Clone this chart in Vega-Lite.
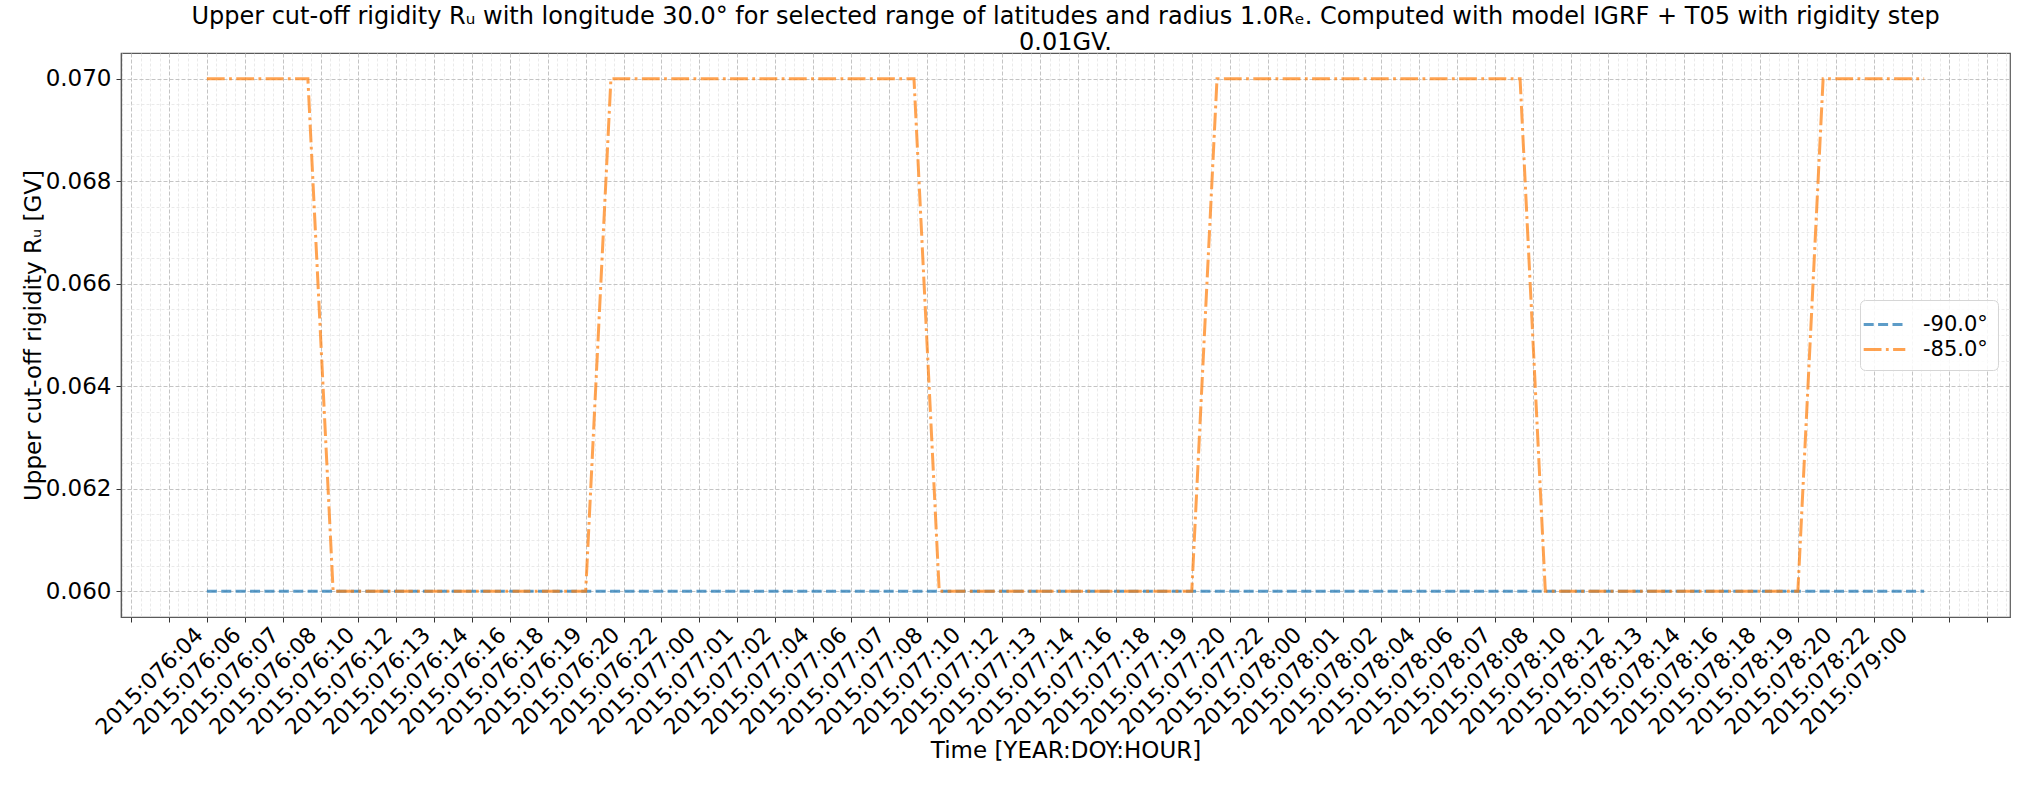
{
  "$schema": "https://vega.github.io/schema/vega-lite/v6.json",
  "width": 1889,
  "height": 564,
  "autosize": {"type": "none"},
  "padding": {"left": 121, "top": 53, "right": 25, "bottom": 168},
  "background": "white",
  "config": {
    "font": "DejaVu Sans",
    "view": {"stroke": "#5a5a5a", "strokeWidth": 1.2},
    "axis": {"labelFont": "DejaVu Sans", "titleFont": "DejaVu Sans", "labelColor": "black", "titleColor": "black", "titleFontWeight": "normal"}
  },
  "title": {
    "text": ["Upper cut-off rigidity Rᵤ with longitude 30.0° for selected range of latitudes and radius 1.0Rₑ. Computed with model IGRF + T05 with rigidity step", "0.01GV."],
    "fontSize": 24,
    "font": "DejaVu Sans",
    "fontWeight": "normal",
    "color": "black",
    "anchor": "middle",
    "frame": "group",
    "lineHeight": 26,
    "offset": -2
  },
  "data": {"values": [
    {"hour": 0, "R": 0.06, "lat": "-90.0°"}, {"hour": 1, "R": 0.06, "lat": "-90.0°"}, {"hour": 2, "R": 0.06, "lat": "-90.0°"}, {"hour": 3, "R": 0.06, "lat": "-90.0°"}, {"hour": 4, "R": 0.06, "lat": "-90.0°"}, {"hour": 5, "R": 0.06, "lat": "-90.0°"}, {"hour": 6, "R": 0.06, "lat": "-90.0°"}, {"hour": 7, "R": 0.06, "lat": "-90.0°"}, {"hour": 8, "R": 0.06, "lat": "-90.0°"}, {"hour": 9, "R": 0.06, "lat": "-90.0°"},
    {"hour": 10, "R": 0.06, "lat": "-90.0°"}, {"hour": 11, "R": 0.06, "lat": "-90.0°"}, {"hour": 12, "R": 0.06, "lat": "-90.0°"}, {"hour": 13, "R": 0.06, "lat": "-90.0°"}, {"hour": 14, "R": 0.06, "lat": "-90.0°"}, {"hour": 15, "R": 0.06, "lat": "-90.0°"}, {"hour": 16, "R": 0.06, "lat": "-90.0°"}, {"hour": 17, "R": 0.06, "lat": "-90.0°"}, {"hour": 18, "R": 0.06, "lat": "-90.0°"}, {"hour": 19, "R": 0.06, "lat": "-90.0°"},
    {"hour": 20, "R": 0.06, "lat": "-90.0°"}, {"hour": 21, "R": 0.06, "lat": "-90.0°"}, {"hour": 22, "R": 0.06, "lat": "-90.0°"}, {"hour": 23, "R": 0.06, "lat": "-90.0°"}, {"hour": 24, "R": 0.06, "lat": "-90.0°"}, {"hour": 25, "R": 0.06, "lat": "-90.0°"}, {"hour": 26, "R": 0.06, "lat": "-90.0°"}, {"hour": 27, "R": 0.06, "lat": "-90.0°"}, {"hour": 28, "R": 0.06, "lat": "-90.0°"}, {"hour": 29, "R": 0.06, "lat": "-90.0°"},
    {"hour": 30, "R": 0.06, "lat": "-90.0°"}, {"hour": 31, "R": 0.06, "lat": "-90.0°"}, {"hour": 32, "R": 0.06, "lat": "-90.0°"}, {"hour": 33, "R": 0.06, "lat": "-90.0°"}, {"hour": 34, "R": 0.06, "lat": "-90.0°"}, {"hour": 35, "R": 0.06, "lat": "-90.0°"}, {"hour": 36, "R": 0.06, "lat": "-90.0°"}, {"hour": 37, "R": 0.06, "lat": "-90.0°"}, {"hour": 38, "R": 0.06, "lat": "-90.0°"}, {"hour": 39, "R": 0.06, "lat": "-90.0°"},
    {"hour": 40, "R": 0.06, "lat": "-90.0°"}, {"hour": 41, "R": 0.06, "lat": "-90.0°"}, {"hour": 42, "R": 0.06, "lat": "-90.0°"}, {"hour": 43, "R": 0.06, "lat": "-90.0°"}, {"hour": 44, "R": 0.06, "lat": "-90.0°"}, {"hour": 45, "R": 0.06, "lat": "-90.0°"}, {"hour": 46, "R": 0.06, "lat": "-90.0°"}, {"hour": 47, "R": 0.06, "lat": "-90.0°"}, {"hour": 48, "R": 0.06, "lat": "-90.0°"}, {"hour": 49, "R": 0.06, "lat": "-90.0°"},
    {"hour": 50, "R": 0.06, "lat": "-90.0°"}, {"hour": 51, "R": 0.06, "lat": "-90.0°"}, {"hour": 52, "R": 0.06, "lat": "-90.0°"}, {"hour": 53, "R": 0.06, "lat": "-90.0°"}, {"hour": 54, "R": 0.06, "lat": "-90.0°"}, {"hour": 55, "R": 0.06, "lat": "-90.0°"}, {"hour": 56, "R": 0.06, "lat": "-90.0°"}, {"hour": 57, "R": 0.06, "lat": "-90.0°"}, {"hour": 58, "R": 0.06, "lat": "-90.0°"}, {"hour": 59, "R": 0.06, "lat": "-90.0°"},
    {"hour": 60, "R": 0.06, "lat": "-90.0°"}, {"hour": 61, "R": 0.06, "lat": "-90.0°"}, {"hour": 62, "R": 0.06, "lat": "-90.0°"}, {"hour": 63, "R": 0.06, "lat": "-90.0°"}, {"hour": 64, "R": 0.06, "lat": "-90.0°"}, {"hour": 65, "R": 0.06, "lat": "-90.0°"}, {"hour": 66, "R": 0.06, "lat": "-90.0°"}, {"hour": 67, "R": 0.06, "lat": "-90.0°"}, {"hour": 68, "R": 0.06, "lat": "-90.0°"},
    {"hour": 0, "R": 0.07, "lat": "-85.0°"}, {"hour": 1, "R": 0.07, "lat": "-85.0°"}, {"hour": 2, "R": 0.07, "lat": "-85.0°"}, {"hour": 3, "R": 0.07, "lat": "-85.0°"}, {"hour": 4, "R": 0.07, "lat": "-85.0°"}, {"hour": 5, "R": 0.06, "lat": "-85.0°"}, {"hour": 6, "R": 0.06, "lat": "-85.0°"}, {"hour": 7, "R": 0.06, "lat": "-85.0°"}, {"hour": 8, "R": 0.06, "lat": "-85.0°"}, {"hour": 9, "R": 0.06, "lat": "-85.0°"},
    {"hour": 10, "R": 0.06, "lat": "-85.0°"}, {"hour": 11, "R": 0.06, "lat": "-85.0°"}, {"hour": 12, "R": 0.06, "lat": "-85.0°"}, {"hour": 13, "R": 0.06, "lat": "-85.0°"}, {"hour": 14, "R": 0.06, "lat": "-85.0°"}, {"hour": 15, "R": 0.06, "lat": "-85.0°"}, {"hour": 16, "R": 0.07, "lat": "-85.0°"}, {"hour": 17, "R": 0.07, "lat": "-85.0°"}, {"hour": 18, "R": 0.07, "lat": "-85.0°"}, {"hour": 19, "R": 0.07, "lat": "-85.0°"},
    {"hour": 20, "R": 0.07, "lat": "-85.0°"}, {"hour": 21, "R": 0.07, "lat": "-85.0°"}, {"hour": 22, "R": 0.07, "lat": "-85.0°"}, {"hour": 23, "R": 0.07, "lat": "-85.0°"}, {"hour": 24, "R": 0.07, "lat": "-85.0°"}, {"hour": 25, "R": 0.07, "lat": "-85.0°"}, {"hour": 26, "R": 0.07, "lat": "-85.0°"}, {"hour": 27, "R": 0.07, "lat": "-85.0°"}, {"hour": 28, "R": 0.07, "lat": "-85.0°"}, {"hour": 29, "R": 0.06, "lat": "-85.0°"},
    {"hour": 30, "R": 0.06, "lat": "-85.0°"}, {"hour": 31, "R": 0.06, "lat": "-85.0°"}, {"hour": 32, "R": 0.06, "lat": "-85.0°"}, {"hour": 33, "R": 0.06, "lat": "-85.0°"}, {"hour": 34, "R": 0.06, "lat": "-85.0°"}, {"hour": 35, "R": 0.06, "lat": "-85.0°"}, {"hour": 36, "R": 0.06, "lat": "-85.0°"}, {"hour": 37, "R": 0.06, "lat": "-85.0°"}, {"hour": 38, "R": 0.06, "lat": "-85.0°"}, {"hour": 39, "R": 0.06, "lat": "-85.0°"},
    {"hour": 40, "R": 0.07, "lat": "-85.0°"}, {"hour": 41, "R": 0.07, "lat": "-85.0°"}, {"hour": 42, "R": 0.07, "lat": "-85.0°"}, {"hour": 43, "R": 0.07, "lat": "-85.0°"}, {"hour": 44, "R": 0.07, "lat": "-85.0°"}, {"hour": 45, "R": 0.07, "lat": "-85.0°"}, {"hour": 46, "R": 0.07, "lat": "-85.0°"}, {"hour": 47, "R": 0.07, "lat": "-85.0°"}, {"hour": 48, "R": 0.07, "lat": "-85.0°"}, {"hour": 49, "R": 0.07, "lat": "-85.0°"},
    {"hour": 50, "R": 0.07, "lat": "-85.0°"}, {"hour": 51, "R": 0.07, "lat": "-85.0°"}, {"hour": 52, "R": 0.07, "lat": "-85.0°"}, {"hour": 53, "R": 0.06, "lat": "-85.0°"}, {"hour": 54, "R": 0.06, "lat": "-85.0°"}, {"hour": 55, "R": 0.06, "lat": "-85.0°"}, {"hour": 56, "R": 0.06, "lat": "-85.0°"}, {"hour": 57, "R": 0.06, "lat": "-85.0°"}, {"hour": 58, "R": 0.06, "lat": "-85.0°"}, {"hour": 59, "R": 0.06, "lat": "-85.0°"},
    {"hour": 60, "R": 0.06, "lat": "-85.0°"}, {"hour": 61, "R": 0.06, "lat": "-85.0°"}, {"hour": 62, "R": 0.06, "lat": "-85.0°"}, {"hour": 63, "R": 0.06, "lat": "-85.0°"}, {"hour": 64, "R": 0.07, "lat": "-85.0°"}, {"hour": 65, "R": 0.07, "lat": "-85.0°"}, {"hour": 66, "R": 0.07, "lat": "-85.0°"}, {"hour": 67, "R": 0.07, "lat": "-85.0°"}, {"hour": 68, "R": 0.07, "lat": "-85.0°"}
  ]},
  "resolve": {"axis": {"x": "independent", "y": "independent"}},
  "layer": [
    {
      "mark": {"type": "point", "opacity": 0},
      "encoding": {
        "x": {
          "field": "hour", "type": "quantitative",
          "scale": {"domain": [-3.4, 71.4], "nice": false, "zero": false},
          "axis": {
            "orient": "bottom", "title": null, "labels": false, "ticks": false, "domain": false,
            "grid": true, "gridColor": "#e4e4e4", "gridDash": [3, 2], "gridWidth": 0.8,
            "values": [-3.375, -2.625, -2.25, -1.875, -1.125, -0.75, -0.375,
              0.375, 0.75, 1.125, 1.875, 2.25, 2.625, 3.375, 3.75, 4.125, 4.875, 5.25, 5.625,
              6.375, 6.75, 7.125, 7.875, 8.25, 8.625, 9.375, 9.75, 10.125, 10.875, 11.25, 11.625,
              12.375, 12.75, 13.125, 13.875, 14.25, 14.625, 15.375, 15.75, 16.125, 16.875, 17.25, 17.625,
              18.375, 18.75, 19.125, 19.875, 20.25, 20.625, 21.375, 21.75, 22.125, 22.875, 23.25, 23.625,
              24.375, 24.75, 25.125, 25.875, 26.25, 26.625, 27.375, 27.75, 28.125, 28.875, 29.25, 29.625,
              30.375, 30.75, 31.125, 31.875, 32.25, 32.625, 33.375, 33.75, 34.125, 34.875, 35.25, 35.625,
              36.375, 36.75, 37.125, 37.875, 38.25, 38.625, 39.375, 39.75, 40.125, 40.875, 41.25, 41.625,
              42.375, 42.75, 43.125, 43.875, 44.25, 44.625, 45.375, 45.75, 46.125, 46.875, 47.25, 47.625,
              48.375, 48.75, 49.125, 49.875, 50.25, 50.625, 51.375, 51.75, 52.125, 52.875, 53.25, 53.625,
              54.375, 54.75, 55.125, 55.875, 56.25, 56.625, 57.375, 57.75, 58.125, 58.875, 59.25, 59.625,
              60.375, 60.75, 61.125, 61.875, 62.25, 62.625, 63.375, 63.75, 64.125, 64.875, 65.25, 65.625,
              66.375, 66.75, 67.125, 67.875, 68.25, 68.625, 69.375, 69.75, 70.125, 70.875, 71.25]
          }
        },
        "y": {
          "field": "R", "type": "quantitative",
          "scale": {"domain": [0.0595, 0.0705], "nice": false, "zero": false},
          "axis": {
            "orient": "left", "title": null, "labels": false, "ticks": false, "domain": false,
            "grid": true, "gridColor": "#e4e4e4", "gridDash": [3, 2], "gridWidth": 0.8,
            "values": [0.0605, 0.061, 0.0615, 0.0625, 0.063, 0.0635, 0.0645, 0.065, 0.0655, 0.0665, 0.067, 0.0675, 0.0685, 0.069, 0.0695]
          }
        }
      }
    },
    {
      "mark": {"type": "line", "strokeWidth": 3, "opacity": 0.72},
      "encoding": {
        "x": {
          "field": "hour", "type": "quantitative",
          "scale": {"domain": [-3.4, 71.4], "nice": false, "zero": false},
          "axis": {
            "orient": "bottom",
            "title": "Time [YEAR:DOY:HOUR]",
            "titleFontSize": 23, "titlePadding": 1,
            "labelFontSize": 22, "labelAngle": -45, "labelAlign": "right", "labelBaseline": "middle",
            "labelOffset": -8, "labelPadding": 9, "labelOverlap": false, "labelFlush": false, "labelBound": false,
            "tickSize": 5, "tickColor": "#333", "domainColor": "#5a5a5a", "domainWidth": 1.2,
            "grid": true, "gridColor": "#c4c4c4", "gridDash": [4, 2], "gridWidth": 1,
            "values": [-3, -1.5, 0, 1.5, 3, 4.5, 6, 7.5, 9, 10.5, 12, 13.5, 15, 16.5, 18, 19.5, 21, 22.5, 24, 25.5, 27, 28.5, 30, 31.5, 33, 34.5, 36, 37.5, 39, 40.5, 42, 43.5, 45, 46.5, 48, 49.5, 51, 52.5, 54, 55.5, 57, 58.5, 60, 61.5, 63, 64.5, 66, 67.5, 69, 70.5],
            "labelExpr": "datum.value < -0.1 || datum.value > 68 ? '' : ['2015:076:04','2015:076:06','2015:076:07','2015:076:08','2015:076:10','2015:076:12','2015:076:13','2015:076:14','2015:076:16','2015:076:18','2015:076:19','2015:076:20','2015:076:22','2015:077:00','2015:077:01','2015:077:02','2015:077:04','2015:077:06','2015:077:07','2015:077:08','2015:077:10','2015:077:12','2015:077:13','2015:077:14','2015:077:16','2015:077:18','2015:077:19','2015:077:20','2015:077:22','2015:078:00','2015:078:01','2015:078:02','2015:078:04','2015:078:06','2015:078:07','2015:078:08','2015:078:10','2015:078:12','2015:078:13','2015:078:14','2015:078:16','2015:078:18','2015:078:19','2015:078:20','2015:078:22','2015:079:00'][round(datum.value / 1.5)]"
          }
        },
        "y": {
          "field": "R", "type": "quantitative",
          "scale": {"domain": [0.0595, 0.0705], "nice": false, "zero": false},
          "axis": {
            "orient": "left",
            "title": "Upper cut-off rigidity Rᵤ [GV]",
            "titleFontSize": 23, "titlePadding": 0,
            "labelFontSize": 23, "labelPadding": 5, "format": ".3f",
            "tickSize": 5, "tickColor": "#333", "domainColor": "#5a5a5a", "domainWidth": 1.2,
            "grid": true, "gridColor": "#c4c4c4", "gridDash": [4, 2], "gridWidth": 1,
            "values": [0.06, 0.062, 0.064, 0.066, 0.068, 0.07]
          }
        },
        "color": {
          "field": "lat", "type": "nominal",
          "scale": {"domain": ["-90.0°", "-85.0°"], "range": ["#1f77b4", "#ff7f0e"]},
          "legend": {
            "title": null, "orient": "none", "legendX": 1739, "legendY": 247,
            "symbolType": "M-1.6,0H1.6", "symbolSize": 676, "symbolStrokeWidth": 3, "symbolOpacity": 0.72,
            "labelFontSize": 21, "labelFont": "DejaVu Sans", "labelColor": "black", "labelOffset": 24,
            "fillColor": "rgba(255,255,255,0.85)", "strokeColor": "#d6d6d6", "cornerRadius": 5,
            "padding": 10, "rowPadding": 0
          }
        },
        "strokeDash": {
          "field": "lat", "type": "nominal",
          "scale": {"domain": ["-90.0°", "-85.0°"], "range": [[10, 4.4], [17.8, 4.4, 2.8, 4.4]]},
          "legend": {
            "title": null, "orient": "none", "legendX": 1739, "legendY": 247,
            "symbolType": "M-1.6,0H1.6", "symbolSize": 676, "symbolStrokeWidth": 3, "symbolOpacity": 0.72,
            "labelFontSize": 21, "labelFont": "DejaVu Sans", "labelColor": "black", "labelOffset": 24,
            "fillColor": "rgba(255,255,255,0.85)", "strokeColor": "#d6d6d6", "cornerRadius": 5,
            "padding": 10, "rowPadding": 0
          }
        }
      }
    }
  ]
}
